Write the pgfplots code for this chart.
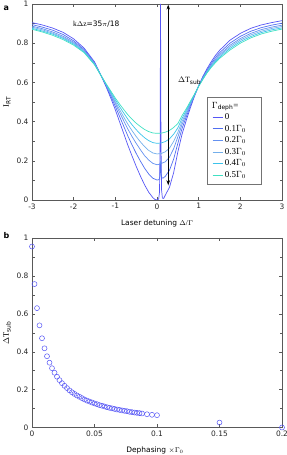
\documentclass[border=0pt]{standalone}
\usepackage{fontspec}
\setmainfont{DejaVu Sans}
\newfontfamily\serif{Liberation Serif}
\usepackage{pgfplots}
\pgfplotsset{compat=1.18}
\usetikzlibrary{arrows.meta}
\definecolor{c0}{RGB}{85,85,245}
\definecolor{c1}{RGB}{80,110,240}
\definecolor{c2}{RGB}{100,145,240}
\definecolor{c3}{RGB}{115,175,235}
\definecolor{c4}{RGB}{60,195,235}
\definecolor{c5}{RGB}{64,224,195}
\newcommand{\tickfont}{\fontsize{7.5}{9}\selectfont}
\pgfplotsset{
  myaxis/.style={
    width=250bp, scale only axis, anchor=south west,
    ymin=0, ymax=1,
    ytick={0,0.2,0.4,0.6,0.8,1},
    yticklabels={0,0.2,0.4,0.6,0.8,1},
    minor ytick={0.1,0.3,0.5,0.7,0.9},
    tick align=inside,
    major tick length=3bp, minor tick length=2.5bp,
    every tick/.style={black!65, line width=0.4pt},
    axis line style={black!65, line width=0.5pt},
    tick label style={font=\tickfont, black!85},
    /pgf/number format/assume math mode=true,
  }
}
\begin{document}
\begin{tikzpicture}
\useasboundingbox (0bp,0bp) rectangle (287bp,455bp);
% ---------------- panel a
\begin{axis}[myaxis, at={(32bp,255bp)}, height=196bp,
  xmin=-3, xmax=3,
  xtick={-3,-2,-1,0,1,2,3},
  xticklabels={-3,-2,-1,0,1,2,3},
  legend cell align=left,
  legend style={at={(0.70,0.526)}, anchor=north west, draw=black!55, line width=0.4pt,
     font=\serif\fontsize{9}{10}\selectfont, row sep=0.4bp, inner xsep=5bp, inner ysep=3bp,
     nodes={inner sep=1.8bp}},
  legend image code/.code={\draw[#1, line width=1pt] (0bp,0bp) -- (10bp,0bp);},
]
\addlegendimage{empty legend}
\addlegendentry{\hspace*{-13bp}$\Gamma_{\mathrm{deph}}$=}
\addplot[c0, line width=0.7pt] coordinates {
(-3,.905) (-2.75,.893) (-2.5,.877) (-2.25,.855) (-2,.822) (-1.75,.775) (-1.5,.705) (-1.4,.660) (-1.3,.615) (-1.2,.567) (-1.1,.515) (-1.0,.460) (-0.9,.400) (-0.8,.340) (-0.7,.280) (-0.6,.225) (-0.5,.172) (-0.4,.123) (-0.3,.078) (-0.2,.040) (-0.1,.012) (-0.05,.003) (0,.000) (0.04,.005) (0.06,.04) (0.075,.3) (0.085,1.0) (0.095,.3) (0.11,.05) (0.13,.01) (0.16,.008) (0.2,.025) (0.3,.065) (0.4,.140) (0.5,.245) (0.6,.335) (0.7,.405) (0.8,.470) (0.9,.530) (1.0,.583) (1.1,.630) (1.2,.670) (1.3,.705) (1.4,.737) (1.5,.763) (1.75,.815) (2,.850) (2.25,.876) (2.5,.893) (2.75,.905) (3,.915)};
\addlegendentry{0}
\addplot[c1, line width=0.7pt] coordinates {
(-3,.895) (-2.75,.882) (-2.5,.866) (-2.25,.844) (-2,.812) (-1.75,.768) (-1.5,.701) (-1.4,.659) (-1.3,.617) (-1.2,.573) (-1.1,.526) (-1.0,.478) (-0.9,.427) (-0.8,.377) (-0.7,.327) (-0.6,.281) (-0.5,.238) (-0.4,.199) (-0.3,.163) (-0.2,.133) (-0.1,.111) (0,.102) (0.05,.104) (0.07,.12) (0.085,.19) (0.1,.13) (0.12,.112) (0.15,.112) (0.2,.121) (0.3,.152) (0.4,.209) (0.5,.289) (0.6,.364) (0.7,.423) (0.8,.480) (0.9,.533) (1.0,.582) (1.1,.626) (1.2,.663) (1.3,.696) (1.4,.726) (1.5,.751) (1.75,.800) (2,.835) (2.25,.861) (2.5,.879) (2.75,.892) (3,.902)};
\addlegendentry{0.1$\Gamma_0$}
\addplot[c2, line width=0.7pt] coordinates {
(-3,.887) (-2.75,.874) (-2.5,.857) (-2.25,.835) (-2,.805) (-1.75,.763) (-1.5,.697) (-1.4,.657) (-1.3,.618) (-1.2,.577) (-1.1,.535) (-1.0,.492) (-0.9,.448) (-0.8,.405) (-0.7,.362) (-0.6,.324) (-0.5,.289) (-0.4,.257) (-0.3,.227) (-0.2,.204) (-0.1,.187) (0,.180) (0.07,.183) (0.085,.198) (0.1,.186) (0.2,.195) (0.3,.219) (0.4,.262) (0.5,.322) (0.6,.385) (0.7,.437) (0.8,.487) (0.9,.535) (1.0,.582) (1.1,.622) (1.2,.658) (1.3,.690) (1.4,.717) (1.5,.741) (1.75,.789) (2,.824) (2.25,.850) (2.5,.869) (2.75,.882) (3,.892)};
\addlegendentry{0.2$\Gamma_0$}
\addplot[c3, line width=0.7pt] coordinates {
(-3,.882) (-2.75,.868) (-2.5,.851) (-2.25,.829) (-2,.800) (-1.75,.759) (-1.5,.695) (-1.4,.657) (-1.3,.618) (-1.2,.580) (-1.1,.541) (-1.0,.501) (-0.9,.462) (-0.8,.424) (-0.7,.387) (-0.6,.354) (-0.5,.324) (-0.4,.297) (-0.3,.273) (-0.2,.253) (-0.1,.240) (0,.235) (0.1,.237) (0.2,.246) (0.3,.265) (0.4,.299) (0.5,.345) (0.6,.401) (0.7,.446) (0.8,.493) (0.9,.537) (1.0,.581) (1.1,.620) (1.2,.655) (1.3,.685) (1.4,.711) (1.5,.735) (1.75,.781) (2,.816) (2.25,.842) (2.5,.861) (2.75,.875) (3,.885)};
\addlegendentry{0.3$\Gamma_0$}
\addplot[c4, line width=0.7pt] coordinates {
(-3,.876) (-2.75,.862) (-2.5,.846) (-2.25,.824) (-2,.795) (-1.75,.755) (-1.5,.692) (-1.4,.656) (-1.3,.619) (-1.2,.583) (-1.1,.547) (-1.0,.511) (-0.9,.477) (-0.8,.444) (-0.7,.412) (-0.6,.384) (-0.5,.359) (-0.4,.337) (-0.3,.318) (-0.2,.303) (-0.1,.293) (0,.289) (0.1,.291) (0.2,.298) (0.3,.312) (0.4,.336) (0.5,.368) (0.6,.416) (0.7,.456) (0.8,.498) (0.9,.539) (1.0,.581) (1.1,.617) (1.2,.651) (1.3,.680) (1.4,.706) (1.5,.728) (1.75,.773) (2,.808) (2.25,.834) (2.5,.854) (2.75,.868) (3,.878)};
\addlegendentry{0.4$\Gamma_0$}
\addplot[c5, line width=0.7pt] coordinates {
(-3,.871) (-2.75,.857) (-2.5,.840) (-2.25,.818) (-2,.790) (-1.75,.752) (-1.5,.690) (-1.4,.655) (-1.3,.620) (-1.2,.586) (-1.1,.553) (-1.0,.520) (-0.9,.490) (-0.8,.462) (-0.7,.435) (-0.6,.412) (-0.5,.392) (-0.4,.375) (-0.3,.360) (-0.2,.349) (-0.1,.342) (0,.340) (0.1,.341) (0.2,.346) (0.3,.355) (0.4,.370) (0.5,.390) (0.6,.430) (0.7,.465) (0.8,.503) (0.9,.540) (1.0,.580) (1.1,.615) (1.2,.648) (1.3,.676) (1.4,.700) (1.5,.722) (1.75,.765) (2,.800) (2.25,.827) (2.5,.847) (2.75,.861) (3,.872)};
\addlegendentry{\makebox[29bp][l]{0.5$\Gamma_0$}}
\addplot[black, line width=0.8pt, {Stealth[length=5bp,width=3.5bp]}-{Stealth[length=5bp,width=3.5bp]}, forget plot] coordinates {(0.27,0.075) (0.27,0.997)};
\node[anchor=west, font=\serif\fontsize{8}{9}\selectfont] at (axis cs:0.42,0.61) {$\Delta$T$_{\mathrm{sub}}$};
\node[font=\fontsize{7.5}{9}\selectfont] at (axis cs:-1.46,0.90) {{\serif k$\Delta$z}=35{\serif $\pi$}/18};
\end{axis}
% ---------------- panel b
\begin{axis}[myaxis, at={(32bp,27.5bp)}, height=189.5bp,
  xmin=0, xmax=0.2, clip=false,
  scaled x ticks=false,
  xtick={0,0.05,0.1,0.15,0.2},
  xticklabels={0,0.05,0.1,0.15,0.2},
]
\addplot[only marks, mark=o, mark size=2.5bp, c0, mark options={line width=0.5pt}] coordinates {
(0,.955) (0.002,.757) (0.004,.630) (0.006,.539) (0.008,.471) (0.010,.418) (0.012,.376) (0.014,.342) (0.016,.313) (0.018,.289) (0.020,.268) (0.022,.250) (0.024,.234) (0.026,.220) (0.028,.208) (0.030,.196) (0.032,.186) (0.034,.177) (0.036,.169) (0.038,.162) (0.040,.155) (0.042,.148) (0.044,.142) (0.046,.137) (0.048,.132) (0.050,.127) (0.052,.123) (0.054,.118) (0.056,.115) (0.058,.111) (0.060,.107) (0.062,.104) (0.064,.101) (0.066,.098) (0.068,.095) (0.070,.093) (0.072,.090) (0.074,.088) (0.076,.086) (0.078,.083) (0.080,.081) (0.082,.079) (0.084,.077) (0.086,.076) (0.088,.074) (0.092,.070) (0.096,.067) (0.100,.065) (0.150,.026) (0.200,.000)};
\end{axis}
% ---------------- labels
\node[anchor=west, font=\bfseries\fontsize{8}{9}\selectfont] at (0bp,447bp) {a};
\node[anchor=west, font=\bfseries\fontsize{8}{9}\selectfont] at (0bp,219bp) {b};
\node[rotate=90, font=\serif\fontsize{8.5}{9}\selectfont] at (7bp,353bp) {I$_{\mathrm{RT}}$};
\node[rotate=90, font=\serif\fontsize{8.5}{9}\selectfont] at (7bp,122bp) {$\Delta$T$_{\mathrm{sub}}$};
\node[font=\fontsize{7.5}{9}\selectfont] at (157bp,232bp) {Laser detuning {\serif $\Delta$/$\Gamma$}};
\node[font=\fontsize{7.5}{9}\selectfont] at (155bp,5bp) {Dephasing $\times${\serif $\Gamma_0$}};
\end{tikzpicture}
\end{document}
